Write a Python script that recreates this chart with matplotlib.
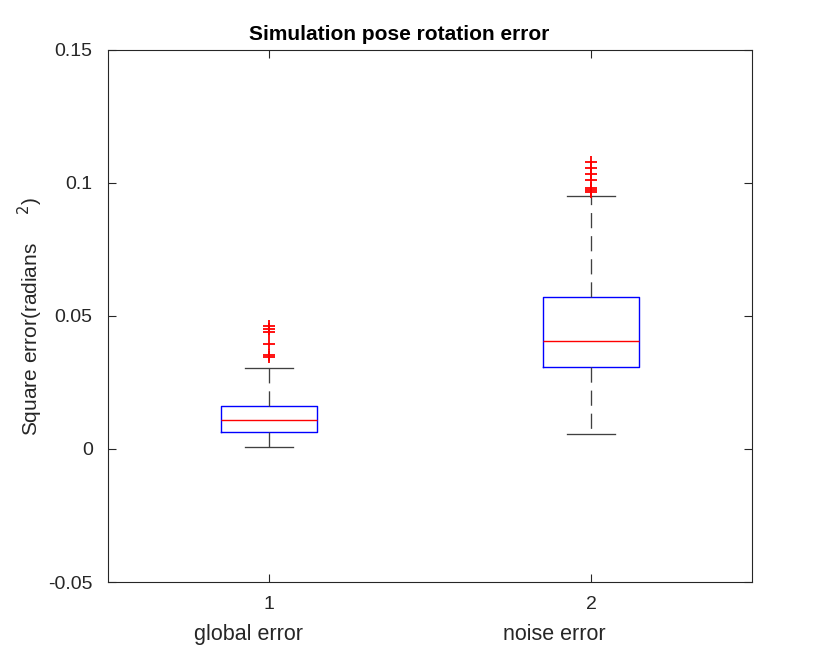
import matplotlib
matplotlib.use("Agg")
import matplotlib.pyplot as plt
from matplotlib.transforms import blended_transform_factory

plt.rcParams['font.family'] = ['Liberation Sans', 'DejaVu Sans']

categories = ["global error", "noise error"]
positions = [1, 2]
q1 = [0.0064, 0.0308]
med = [0.0109, 0.0406]
q3 = [0.0162, 0.0571]
whislo = [0.0008, 0.0056]
whishi = [0.0305, 0.0951]
fliers = [
    [0.0462, 0.0450, 0.0439, 0.0395, 0.0353, 0.0346],
    [0.1080, 0.1058, 0.1035, 0.1010, 0.0981, 0.0974, 0.0966],
]
yticks = [-0.05, 0, 0.05, 0.1, 0.15]
yticklabels = ["-0.05", "0", "0.05", "0.1", "0.15"]

stats = []
for i in range(len(categories)):
    stats.append(dict(q1=q1[i], med=med[i], q3=q3[i], whislo=whislo[i],
                      whishi=whishi[i], fliers=fliers[i], label=categories[i]))

fig = plt.figure(figsize=(8.3, 6.56), dpi=100)
ax = fig.add_axes([0.1301, 0.1128, 0.7759, 0.811])

ax.bxp(stats, positions=positions, widths=0.3, showfliers=True,
       boxprops=dict(color='#0000ff', linewidth=1.0),
       medianprops=dict(color='#ff0000', linewidth=1.0),
       whiskerprops=dict(color='#404040', linewidth=0.95, linestyle=(0, (11.5, 6))),
       capprops=dict(color='#404040', linewidth=0.95),
       capwidths=0.15,
       flierprops=dict(marker='+', markeredgecolor='#ff0000', markersize=8.6,
                       markeredgewidth=1.3, linestyle='none'))

ax.set_xlim(0.5, 2.5)
ax.set_ylim(-0.05, 0.15)
ax.set_yticks(yticks)
ax.set_yticklabels(yticklabels)
ax.set_xticks(positions)
ax.set_xticklabels([str(p) for p in positions])

# category names under the tick numbers (offset as in the reference)
label_dx = [-15, -26.5]  # points
trans = blended_transform_factory(ax.transData, ax.transAxes)
for p, c, dx in zip(positions, categories, label_dx):
    ax.annotate(c, xy=(p, 0), xycoords=trans, xytext=(dx, -37.5),
                textcoords='offset points', ha='center', va='center',
                fontsize=15.5, color='#262626', annotation_clip=False)

for s in ax.spines.values():
    s.set_color('#262626')
    s.set_linewidth(0.8)
ax.tick_params(axis='both', direction='in', top=True, right=True, length=6, width=0.8,
               colors='#262626', labelsize=14)
ax.tick_params(axis='y', pad=11)
ax.tick_params(axis='x', pad=10)

ax.set_ylabel("Square error(radians     $^{2}$)", fontsize=15, color='#262626',
              labelpad=2)
title = ax.set_title("Simulation pose rotation error", fontsize=15, fontweight='bold',
                     color='black', pad=7)
title.set_x(0.452)

fig.savefig("out.png", dpi=100, facecolor='white')
